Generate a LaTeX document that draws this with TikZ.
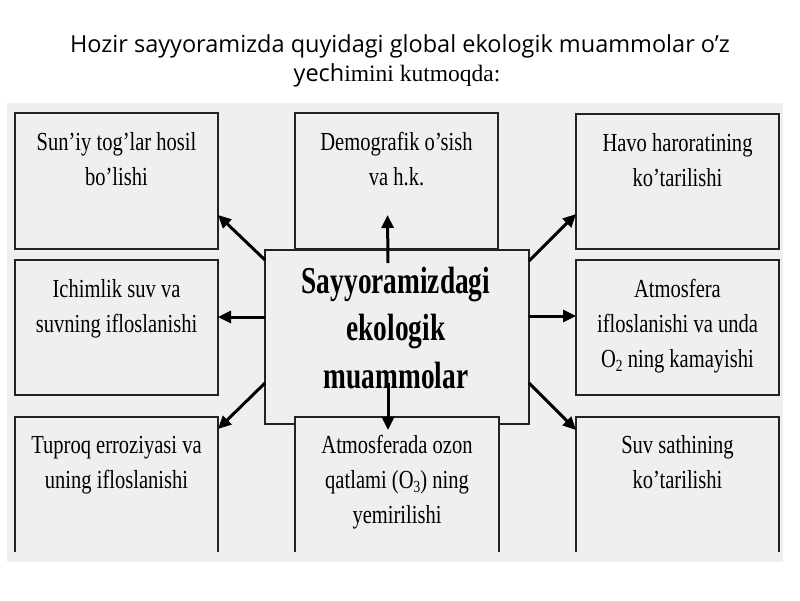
\documentclass[tikz,border=0pt]{standalone}
\usepackage{fontspec}
\setmainfont{Liberation Serif}
\newfontfamily\titlefont{Open Sans}
\newfontfamily\boxfont[FakeStretch=0.79]{Liberation Serif}
\newfontfamily\centfont[FakeStretch=0.72]{Liberation Serif}
\usetikzlibrary{arrows.meta,calc}
\definecolor{panel}{HTML}{EFEFEF}
\definecolor{edge}{HTML}{222222}
\newcommand\subsc[1]{\raisebox{-0.35ex}{\fontsize{17}{17}\selectfont #1}}
\begin{document}
\begin{tikzpicture}[x=1pt,y=-1pt,
  box/.style={draw=edge, line width=1.4pt, fill=panel, minimum width=203pt, minimum height=136pt,
    inner sep=0pt, outer sep=0pt, anchor=north west},
  openbox/.style={fill=panel, minimum width=203pt, minimum height=135pt,
    inner sep=0pt, outer sep=0pt, anchor=north west},
  openedge/.style={draw=edge, line width=1.4pt},
  boxtext/.style={font=\boxfont\fontsize{26}{35}\selectfont, align=center, anchor=north,
    inner sep=0pt, text=black},
  arr/.style={line width=3pt, draw=black,
    -{Triangle[length=13pt,width=12pt]}}
]
\fill[white] (0,0) rectangle (800,600);
\useasboundingbox (0,0) rectangle (800,600);

% title
\node[font=\titlefont\fontsize{23.5}{30}\selectfont, anchor=base, inner sep=0pt] (title1) at (400,52)
  {Hozir sayyoramizda quyidagi global ekologik muammolar o’z};
\node[anchor=base, inner sep=0pt, font=\fontsize{23.5}{30}\selectfont] (title2) at (397,81)
  {{\titlefont yech}imini kutmoqda:};

% panel
\node[fill=panel, minimum width=776pt, minimum height=459pt, anchor=north west,
  inner sep=0pt, outer sep=0pt] (panelbg) at (7,103) {};

% boxes
\node[box] (TL) at (15,113) {};
\node[box] (TC) at (295,113) {};
\node[box, minimum height=135pt] (TR) at (576,114) {};
\node[box, minimum height=135pt] (ML) at (15,260) {};
\node[box, minimum height=135pt] (MR) at (576,260) {};
\node[openbox] (BL) at (15,417) {};
\node[openbox] (BR) at (576,417) {};
\draw[openedge] (BL.south west) -- (BL.north west) -- (BL.north east) -- (BL.south east);
\draw[openedge] (BR.south west) -- (BR.north west) -- (BR.north east) -- (BR.south east);

% central box
\node[box, minimum width=264pt, minimum height=174pt] (C) at (265,250) {};

% bottom centre box (over the central box)
\node[openbox, minimum width=204pt] (BC) at (295,417) {};
\draw[openedge] (BC.south west) -- (BC.north west) -- (BC.north east) -- (BC.south east);

% texts
\node[boxtext] (tTL) at ($(TL.north)+(0,12.5)$) {\strut Sun’iy tog’lar hosil\\bo’lishi};
\node[boxtext] (tTC) at ($(TC.north)+(0,12.5)$) {\strut Demografik o’sish\\va h.k.};
\node[boxtext] (tTR) at ($(TR.north)+(0,12.5)$) {\strut Havo haroratining\\ko’tarilishi};
\node[boxtext] (tML) at ($(ML.north)+(0,12.5)$) {\strut Ichimlik suv va\\suvning ifloslanishi};
\node[boxtext] (tMR) at ($(MR.north)+(0,12.5)$) {\strut Atmosfera\\ifloslanishi va unda\\O\subsc{2} ning kamayishi};
\node[boxtext] (tBL) at ($(BL.north)+(0,11.5)$) {\strut Tuproq erroziyasi va\\uning ifloslanishi};
\node[boxtext] (tBC) at ($(BC.north)+(0,11.5)$) {\strut Atmosferada ozon\\qatlami (O\subsc{3}) ning\\yemirilishi};
\node[boxtext] (tBR) at ($(BR.north)+(0,11.5)$) {\strut Suv sathining\\ko’tarilishi};

\node[font=\centfont\bfseries\fontsize{38}{47.5}\selectfont, align=center, anchor=north,
  inner sep=0pt] (tC) at ($(C.north)+(-1,9.75)$) {\strut Sayyoramizdagi\\ekologik\\muammolar};

% arrows
\coordinate (sTL) at ($(C.north west)+(0,10)$);
\coordinate (sTC) at ($(C.north)+(-9,13)$);
\coordinate (sTR) at ($(C.north east)+(0,11)$);
\coordinate (sML) at ($(C.north west)+(0,67)$);
\coordinate (sMR) at ($(C.north east)+(0,66)$);
\coordinate (sBL) at ($(C.south west)+(0,-41)$);
\coordinate (sBC) at ($(C.south)+(-9,-41)$);
\coordinate (sBR) at ($(C.south east)+(0,-41)$);

\draw[arr] (sTL) -- ($(TL.south east)+(0,-34)$);
\draw[arr] (sTC) -- ($(TC.south)+(-9,-34)$);
\draw[arr] (sTR) -- ($(TR.south west)+(0,-35)$);
\draw[arr] (sML) -- (sML -| ML.east);
\draw[arr] (sMR) -- (sMR -| MR.west);
\draw[arr] (sBL) -- ($(BL.north east)+(0,12)$);
\draw[arr] (sBC) -- ($(BC.north)+(-9,13)$);
\draw[arr] (sBR) -- ($(BR.north west)+(0,13)$);
\end{tikzpicture}
\end{document}
